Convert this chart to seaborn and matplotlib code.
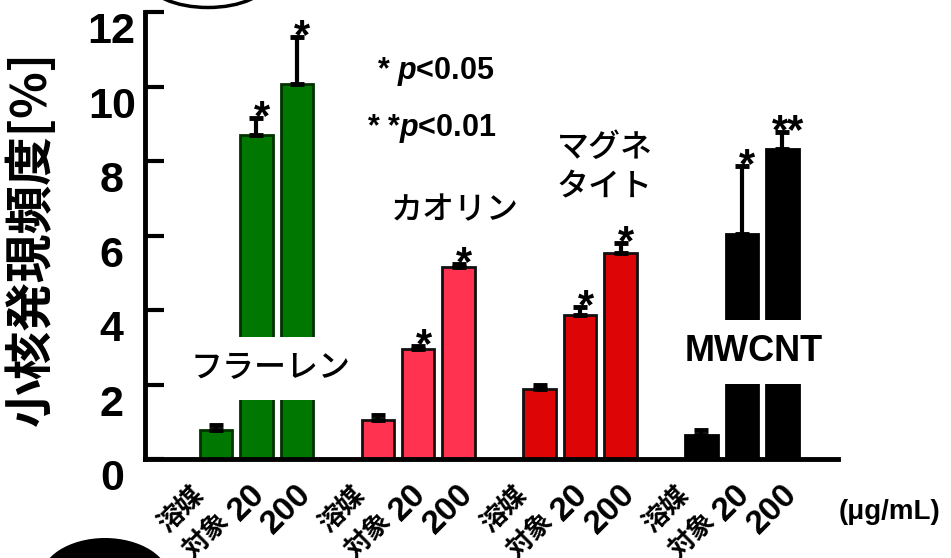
import pandas as pd
import matplotlib.pyplot as plt
import matplotlib.transforms as mtrans
import seaborn as sns
from matplotlib.patches import Ellipse

# data
groups = ["フラーレン", "カオリン", "マグネタイト", "MWCNT"]
doses = ["溶媒\n対象", "20", "200"]
fullerene = [0.77, 8.69, 10.08]
fullerene_err = [0.13, 0.46, 1.25]
kaolin = [1.04, 2.96, 5.15]
kaolin_err = [0.13, 0.08, 0.08]
magnetite = [1.87, 3.87, 5.52]
magnetite_err = [0.13, 0.21, 0.29]
mwcnt = [0.64, 6.03, 8.32]
mwcnt_err = [0.13, 1.84, 0.45]
stars = ["", "*", "*", "", "*", "*", "", "*", "*", "", "*", "**"]

means = [fullerene, kaolin, magnetite, mwcnt]
errs = [fullerene_err, kaolin_err, magnetite_err, mwcnt_err]

rows = []
for g, m, e in zip(groups, means, errs):
    for d, v, s in zip(doses, m, e):
        rows.append({"group": g, "dose": d, "key": g + "|" + d, "value": v, "err": s})
df = pd.DataFrame(rows)

# category order with one empty slot between groups
order = []
for i, g in enumerate(groups):
    order += [g + "|" + d for d in doses]
    if i < len(groups) - 1:
        order.append("gap%d" % i)

colors = {"フラーレン": "#007700", "カオリン": "#ff3350", "マグネタイト": "#dd0505", "MWCNT": "#000000"}
edges = {"フラーレン": "#003300", "カオリン": "#111111", "マグネタイト": "#111111", "MWCNT": "#000000"}

sns.set_theme(style="white")
plt.rcParams["font.family"] = ["Liberation Sans", "Noto Sans CJK JP"]
plt.rcParams["text.color"] = "black"
plt.rcParams["axes.labelcolor"] = "black"
plt.rcParams["xtick.color"] = "black"
plt.rcParams["ytick.color"] = "black"
plt.rcParams["mathtext.fontset"] = "custom"
plt.rcParams["mathtext.it"] = "Liberation Sans:italic:bold"
plt.rcParams["mathtext.rm"] = "Liberation Sans:bold"

fig = plt.figure(figsize=(9.51, 5.58), dpi=100)
ax = fig.add_axes([0.1525, 0.1774, 0.7285, 0.801])

sns.barplot(data=df, x="key", y="value", hue="group", order=order,
            palette=colors, saturation=1, width=0.8, legend=False, ax=ax,
            errorbar=None)

# bar edges + error bars (upper only) from the bar patches
bars = [p for p in ax.patches if p.get_height() > 0]
bars.sort(key=lambda p: p.get_x())
for p, (_, r), st in zip(bars, df.iterrows(), stars):
    p.set_edgecolor(edges[r["group"]])
    p.set_linewidth(2)
    xc = p.get_x() + p.get_width() / 2
    ax.errorbar(xc, r["value"], yerr=[[0], [r["err"]]], fmt="none",
                ecolor="black", elinewidth=3, capsize=5, capthick=3.5, zorder=1)
    if st:
        ax.annotate(st, (xc, r["value"] + r["err"]), xytext=(4, -8),
                    textcoords="offset points", ha="center", va="baseline",
                    fontsize=30, fontweight="bold")

ax.set_xlim(-1.75, 15.37)
ax.set_ylim(0, 12)
ax.set_yticks(range(0, 13, 2))
ax.set_xticks(range(len(order)))
ax.set_xticklabels([k.split("|")[1] if "|" in k else "" for k in order])
ax.tick_params(axis="x", length=0, pad=8, labelsize=24, labelrotation=45)
for lab in ax.get_xticklabels():
    lab.set_ha("center")
    lab.set_va("top")
    lab.set_fontweight("bold")
    if "溶" in lab.get_text():
        lab.set_family(["Noto Sans CJK JP"])
        lab.set_fontsize(19)
        lab.set_linespacing(1.45)
        shift = mtrans.ScaledTranslation(-16 / 72, -8 / 72, fig.dpi_scale_trans)
    else:
        shift = mtrans.ScaledTranslation(-7 / 72, -6 / 72, fig.dpi_scale_trans)
    lab.set_transform(lab.get_transform() + shift)

ax.tick_params(axis="y", direction="in", length=14, width=3, pad=24,
               labelsize=31, left=True)
for lab in ax.get_yticklabels():
    lab.set_fontweight("bold")
    lab.set_ha("center")
    lab.set_va("top")

for side in ["top", "right"]:
    ax.spines[side].set_visible(False)
for side in ["left", "bottom"]:
    ax.spines[side].set_linewidth(3.5)
    ax.spines[side].set_color("black")

ax.set_xlabel("")
ax.set_ylabel("小核発現頻度[%]", fontsize=35, fontweight="bold",
              family=["Noto Sans CJK JP"])
ax.yaxis.set_label_coords(-0.128, 0.494)

box = dict(boxstyle="square,pad=0.5", fc="white", ec="none")
ax.text(1.34, 2.43, "フラーレン", ha="center", va="center", fontsize=23,
        fontweight="medium", family=["Noto Sans CJK JP"], bbox=box, zorder=5)
ax.text(5.9, 6.67, "カオリン", ha="center", va="center", fontsize=23,
        fontweight="medium", family=["Noto Sans CJK JP"])
ax.text(8.43, 7.81, "マグネ\nタイト", ha="left", va="center", fontsize=23,
        fontweight="medium", family=["Noto Sans CJK JP"], linespacing=1.3)
ax.text(13.3, 2.88, "MWCNT", ha="center", va="center", fontsize=26,
        fontweight="bold", bbox=dict(boxstyle="square,pad=0.4", fc="white", ec="none"),
        zorder=5)
ax.text(5.44, 10.4, "* $p$<0.05", ha="center", va="center", fontsize=22, fontweight="bold")
ax.text(5.34, 8.88, "* *$p$<0.01", ha="center", va="center", fontsize=22, fontweight="bold")
fig.text(0.935, 0.082, "(μg/mL)", ha="center", va="center", fontsize=20, fontweight="bold")

# cut-off round shapes at the image edges
fig.add_artist(Ellipse((208 / 951, 1 + 20 / 558), 120 / 951, 55 / 558,
                       transform=fig.transFigure, fill=False, ec="black", lw=2.5))
fig.add_artist(Ellipse((105 / 951, -22 / 558), 130 / 951, 84 / 558,
                       transform=fig.transFigure, fc="black", ec="none"))

plt.savefig("out.png", dpi=100)
plt.close()
